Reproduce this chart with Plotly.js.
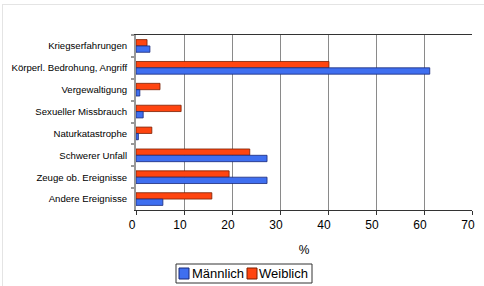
<!DOCTYPE html>
<html>
<head>
<meta charset="utf-8">
<script src="https://cdn.plot.ly/plotly-3.0.1.min.js"></script>
<style>
  html, body { margin: 0; padding: 0; background: #fff; }
  #chart { width: 484px; height: 286px; }
  #frame { position: absolute; left: 2px; top: 4px; width: 482px; height: 282px;
           border-left: 1px solid #e4e4e4; border-top: 1px solid #e4e4e4; pointer-events: none; }
</style>
</head>
<body>
<div id="chart"></div>
<div id="frame"></div>
<script>
const categories = [
  "Kriegserfahrungen",
  "Körperl. Bedrohung, Angriff",
  "Vergewaltigung",
  "Sexueller Missbrauch",
  "Naturkatastrophe",
  "Schwerer Unfall",
  "Zeuge ob. Ereignisse",
  "Andere Ereignisse"
];
const maennlich = [2.9, 61.2, 0.8, 1.5, 0.5, 27.3, 27.3, 5.6];
const weiblich  = [2.3, 40.2, 5.0, 9.4, 3.3, 23.7, 19.4, 15.8];
const xTicks = [0, 10, 20, 30, 40, 50, 60, 70];
const seriesNames = ["Männlich", "Weiblich"];
const seriesColors = ["#3f6ff0", "#ff4510"];
const seriesEdges = ["#1a2a78", "#7a1e00"];

const font = "Liberation Sans, Arial, Helvetica, sans-serif";

// plot-area geometry (pixels) used for the hand-built legend box
const W = 484, H = 286, L = 136, R = 12, T = 35, B = 76;
const pw = W - L - R, ph = H - T - B;
const px = x => (x - L) / pw;
const py = y => (H - B - y) / ph;

const traces = [
  {
    type: "bar", orientation: "h", name: seriesNames[1],
    y: categories, x: weiblich,
    marker: { color: seriesColors[1], line: { color: seriesEdges[1], width: 0.8 } }
  },
  {
    type: "bar", orientation: "h", name: seriesNames[0],
    y: categories, x: maennlich,
    marker: { color: seriesColors[0], line: { color: seriesEdges[0], width: 0.8 } }
  }
];

// legend: box, swatches, labels
const shapes = [
  { type: "rect", xref: "paper", yref: "paper",
    x0: px(176), x1: px(312), y0: py(264), y1: py(283),
    line: { color: "#333", width: 1 }, fillcolor: "#fff", layer: "above" },
  { type: "rect", xref: "paper", yref: "paper",
    x0: px(179), x1: px(189), y0: py(268), y1: py(279),
    line: { color: seriesEdges[0], width: 1 }, fillcolor: seriesColors[0], layer: "above" },
  { type: "rect", xref: "paper", yref: "paper",
    x0: px(247), x1: px(257), y0: py(268), y1: py(279),
    line: { color: seriesEdges[1], width: 1 }, fillcolor: seriesColors[1], layer: "above" }
];
const annotations = [
  { xref: "paper", yref: "paper", x: px(190), y: py(273.5), xanchor: "left", yanchor: "middle",
    text: seriesNames[0], showarrow: false, font: { family: font, size: 13, color: "#000" } },
  { xref: "paper", yref: "paper", x: px(257), y: py(273.5), xanchor: "left", yanchor: "middle",
    text: seriesNames[1], showarrow: false, font: { family: font, size: 13, color: "#000" } }
];

const layout = {
  width: W, height: H,
  margin: { l: L, r: R, t: T, b: B, pad: 0 },
  paper_bgcolor: "#ffffff",
  plot_bgcolor: "#ffffff",
  font: { family: font, size: 12, color: "#000" },
  barmode: "group",
  bargap: 0.42,
  bargroupgap: 0,
  showlegend: false,
  shapes: shapes,
  annotations: annotations,
  xaxis: {
    range: [0, 70],
    tickvals: xTicks,
    ticktext: xTicks.map(String),
    showgrid: true,
    gridcolor: "#8a8a8a",
    gridwidth: 1,
    zeroline: false,
    showline: true,
    linecolor: "#333",
    linewidth: 1,
    mirror: true,
    ticks: "outside",
    ticklen: 4,
    tickcolor: "#333",
    ticklabelshift: -4,
    tickfont: { family: font, size: 12, color: "#000" },
    title: { text: "%", font: { family: font, size: 12, color: "#000" }, standoff: 14 },
    fixedrange: true
  },
  yaxis: {
    type: "category",
    autorange: "reversed",
    showgrid: false,
    zeroline: false,
    showline: true,
    linecolor: "#999",
    linewidth: 2,
    ticks: "outside",
    tickson: "boundaries",
    ticklen: 3,
    tickcolor: "#999",
    tickwidth: 2,
    ticklabelstandoff: 5,
    tickfont: { family: font, size: 9.6, color: "#000" },
    fixedrange: true
  }
};

Plotly.newPlot("chart", traces, layout, { displayModeBar: false, staticPlot: true });
</script>
</body>
</html>
